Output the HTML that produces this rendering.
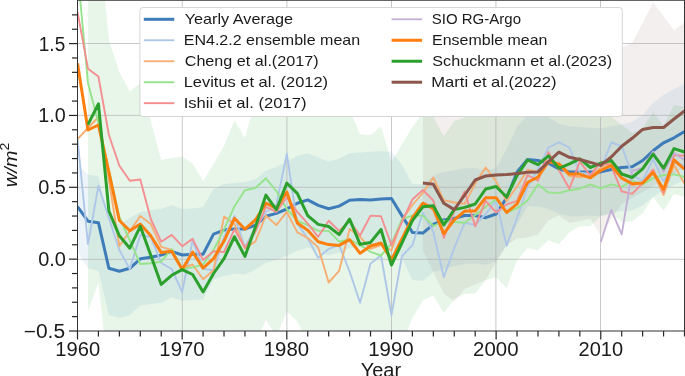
<!DOCTYPE html><html><head><meta charset="utf-8"><style>
html,body{margin:0;padding:0;background:#fff;}
body{width:685px;height:376px;overflow:hidden;}
svg{display:block;font-family:"Liberation Sans",sans-serif;}
</style></head><body>
<svg width="685" height="376" viewBox="0 0 685 376">
<defs><clipPath id="ax"><rect x="77.50" y="0.25" width="607.00" height="330.75"/></clipPath></defs>
<rect width="685" height="376" fill="#fff"/>
<g clip-path="url(#ax)">
<polygon points="87.97,-300.00 98.43,-68.00 108.90,40.00 119.36,72.00 129.83,91.50 140.29,83.00 150.76,121.00 161.22,160.00 171.69,158.00 182.16,156.50 192.62,163.50 203.09,181.00 213.55,164.00 224.02,146.00 234.48,120.50 244.95,138.00 255.41,100.00 265.88,90.00 276.34,85.00 286.81,85.00 297.28,85.00 307.74,85.00 318.21,90.00 328.67,95.00 339.14,100.00 349.60,110.00 360.07,134.30 370.53,135.00 381.00,126.30 391.47,162.00 401.93,144.50 412.40,127.00 422.86,113.00 433.33,117.00 443.79,136.50 454.26,121.20 464.72,117.50 475.19,108.00 485.65,105.00 496.12,105.00 506.59,105.00 517.05,105.00 527.52,105.00 537.98,105.00 548.45,108.00 558.91,110.00 569.38,112.00 579.84,112.00 590.31,114.00 600.77,115.00 611.24,116.50 621.71,125.00 632.17,133.00 642.64,128.00 653.10,112.00 663.57,126.00 674.03,105.00 684.50,107.00 684.50,197.00 674.03,194.00 663.57,210.60 653.10,196.90 642.64,213.30 632.17,221.30 621.71,222.00 611.24,214.00 600.77,216.00 590.31,226.20 579.84,226.20 569.38,232.20 558.91,244.30 548.45,240.20 537.98,250.30 527.52,248.00 517.05,260.50 506.59,288.00 496.12,277.30 485.65,280.00 475.19,293.40 464.72,294.00 454.26,299.00 443.79,313.00 433.33,295.50 422.86,300.50 412.40,318.00 401.93,345.00 391.47,370.00 381.00,380.00 370.53,380.00 360.07,380.00 349.60,380.00 339.14,380.00 328.67,380.00 318.21,380.00 307.74,343.70 297.28,321.50 286.81,311.60 276.34,336.50 265.88,319.80 255.41,343.00 244.95,380.00 234.48,380.00 224.02,380.00 213.55,380.00 203.09,380.00 192.62,380.00 182.16,380.00 171.69,380.00 161.22,380.00 150.76,380.00 140.29,380.00 129.83,380.00 119.36,380.00 108.90,380.00 98.43,282.20 87.97,311.40" fill="rgba(60,185,70,0.12)"/>
<polygon points="77.50,164.50 87.97,174.60 98.43,176.40 108.90,220.00 119.36,224.00 129.83,218.00 140.29,212.00 150.76,210.00 161.22,209.00 171.69,205.00 182.16,209.20 192.62,208.50 203.09,207.00 213.55,189.00 224.02,184.00 234.48,183.00 244.95,182.00 255.41,179.50 265.88,170.70 276.34,167.00 286.81,161.90 297.28,156.10 307.74,153.20 318.21,157.50 328.67,161.60 339.14,158.70 349.60,153.20 360.07,152.40 370.53,151.70 381.00,151.00 391.47,151.70 401.93,164.90 412.40,183.90 422.86,184.60 433.33,175.60 443.79,171.90 454.26,170.50 464.72,168.30 475.19,168.30 485.65,169.70 496.12,168.30 506.59,149.00 517.05,127.00 527.52,115.00 537.98,114.00 548.45,117.50 558.91,123.40 569.38,126.30 579.84,127.00 590.31,127.80 600.77,128.50 611.24,126.30 621.71,124.50 632.17,122.00 642.64,115.00 653.10,103.00 663.57,95.00 674.03,89.00 684.50,84.00 684.50,180.00 674.03,185.00 663.57,190.00 653.10,196.90 642.64,205.60 632.17,210.60 621.71,211.00 611.24,212.50 600.77,216.20 590.31,215.50 579.84,216.20 569.38,216.20 558.91,214.00 548.45,209.00 537.98,206.50 527.52,206.00 517.05,225.00 506.59,245.00 496.12,261.20 485.65,264.90 475.19,263.40 464.72,264.10 454.26,266.30 443.79,269.20 433.33,272.00 422.86,281.00 412.40,280.00 401.93,258.00 391.47,246.50 381.00,246.00 370.53,247.00 360.07,247.50 349.60,248.20 339.14,252.50 328.67,255.50 318.21,251.10 307.74,247.40 297.28,251.10 286.81,255.50 276.34,259.90 265.88,262.80 255.41,269.40 244.95,274.40 234.48,273.70 224.02,275.80 213.55,279.50 203.09,299.20 192.62,300.00 182.16,300.70 171.69,297.50 161.22,302.70 150.76,304.00 140.29,305.60 129.83,315.00 119.36,318.00 108.90,315.00 98.43,271.00 87.97,268.00 77.50,252.00" fill="rgba(31,119,180,0.085)"/>
<polygon points="422.86,95.00 433.33,95.00 443.79,110.00 454.26,118.00 464.72,105.00 475.19,90.00 485.65,86.00 496.12,85.00 506.59,85.00 517.05,83.00 527.52,82.00 537.98,82.00 548.45,72.00 558.91,62.00 569.38,67.00 579.84,69.00 590.31,72.00 600.77,75.00 611.24,62.00 621.71,47.50 632.17,43.00 642.64,23.00 653.10,2.40 663.57,16.30 674.03,30.30 684.50,22.30 684.50,168.00 674.03,174.00 663.57,180.00 653.10,186.00 642.64,192.00 632.17,198.00 621.71,204.00 611.24,219.00 600.77,235.50 590.31,218.60 579.84,221.30 569.38,222.80 558.91,215.40 548.45,220.30 537.98,234.50 527.52,237.50 517.05,238.60 506.59,245.00 496.12,262.00 485.65,280.20 475.19,284.60 464.72,289.00 454.26,301.40 443.79,293.40 433.33,272.00 422.86,250.00" fill="rgba(130,100,95,0.105)"/>
<line x1="182.30" y1="0" x2="182.30" y2="340" stroke="#b0b0b0" stroke-opacity="0.68" stroke-width="1.0"/>
<line x1="286.90" y1="0" x2="286.90" y2="340" stroke="#b0b0b0" stroke-opacity="0.68" stroke-width="1.0"/>
<line x1="391.50" y1="0" x2="391.50" y2="340" stroke="#b0b0b0" stroke-opacity="0.68" stroke-width="1.0"/>
<line x1="495.90" y1="0" x2="495.90" y2="340" stroke="#b0b0b0" stroke-opacity="0.68" stroke-width="1.0"/>
<line x1="600.50" y1="0" x2="600.50" y2="340" stroke="#b0b0b0" stroke-opacity="0.68" stroke-width="1.0"/>
<line x1="70" y1="43.50" x2="690" y2="43.50" stroke="#b0b0b0" stroke-opacity="0.68" stroke-width="1.0"/>
<line x1="70" y1="115.40" x2="690" y2="115.40" stroke="#b0b0b0" stroke-opacity="0.68" stroke-width="1.0"/>
<line x1="70" y1="187.30" x2="690" y2="187.30" stroke="#b0b0b0" stroke-opacity="0.68" stroke-width="1.0"/>
<line x1="70" y1="259.30" x2="690" y2="259.30" stroke="#b0b0b0" stroke-opacity="0.68" stroke-width="1.0"/>
<polyline points="77.50,206.60 87.97,221.20 98.43,222.70 108.90,268.30 119.36,271.20 129.83,268.30 140.29,258.80 150.76,257.30 161.22,255.10 171.69,251.30 182.16,255.00 192.62,254.20 203.09,254.20 213.55,234.10 224.02,230.10 234.48,229.10 244.95,229.10 255.41,225.10 265.88,216.30 276.34,213.40 286.81,209.00 297.28,203.20 307.74,199.90 318.21,205.40 328.67,208.70 339.14,206.10 349.60,200.20 360.07,199.50 370.53,199.90 381.00,199.10 391.47,198.50 401.93,215.60 412.40,232.40 422.86,233.10 433.33,224.30 443.79,219.90 454.26,218.40 464.72,215.50 475.19,215.50 485.65,217.70 496.12,214.00 506.59,197.90 517.05,172.00 527.52,159.50 537.98,160.50 548.45,163.20 558.91,169.00 569.38,171.90 579.84,171.90 590.31,171.90 600.77,171.90 611.24,169.50 621.71,167.60 632.17,166.70 642.64,160.50 653.10,150.80 663.57,142.80 674.03,137.80 684.50,131.50" fill="none" stroke="#3e7cb9" stroke-width="3.0" stroke-linejoin="round" stroke-linecap="butt"/>
<polyline points="77.50,139.00 87.97,244.00 98.43,185.80 108.90,218.00 119.36,250.00 129.83,269.00 140.29,235.00 150.76,237.00 161.22,263.00 171.69,269.00 182.16,292.00 192.62,240.40 203.09,268.90 213.55,270.30 224.02,236.70 234.48,216.00 244.95,247.00 255.41,228.00 265.88,212.00 276.34,205.00 286.81,154.00 297.28,223.60 307.74,238.50 318.21,257.70 328.67,248.90 339.14,245.20 349.60,271.50 360.07,302.70 370.53,263.50 381.00,255.50 391.47,315.10 401.93,256.20 412.40,245.20 422.86,212.70 433.33,232.00 443.79,277.30 454.26,248.00 464.72,222.80 475.19,225.00 485.65,214.00 496.12,200.80 506.59,245.90 517.05,218.00 527.52,187.00 537.98,169.00 548.45,147.50 558.91,142.40 569.38,147.50 579.84,172.70 590.31,174.00 600.77,169.00 611.24,142.50 621.71,146.00 632.17,175.00 642.64,181.00 653.10,158.80 663.57,181.50 674.03,162.00 684.50,166.00" fill="none" stroke="#aec7e8" stroke-width="1.9" stroke-linejoin="round" stroke-linecap="butt"/>
<polyline points="77.50,139.00 87.97,128.00 98.43,117.00 108.90,180.00 119.36,246.00 129.83,231.00 140.29,216.10 150.76,224.10 161.22,246.80 171.69,249.80 182.16,268.00 192.62,264.50 203.09,279.30 213.55,270.30 224.02,216.50 234.48,224.00 244.95,248.40 255.41,241.40 265.88,215.60 276.34,225.10 286.81,211.90 297.28,232.40 307.74,238.00 318.21,247.40 328.67,282.50 339.14,270.80 349.60,229.00 360.07,236.80 370.53,248.90 381.00,245.00 391.47,250.40 401.93,220.00 412.40,205.00 422.86,193.00 433.33,177.50 443.79,200.30 454.26,202.50 464.72,203.80 475.19,183.60 485.65,167.50 496.12,181.40 506.59,201.20 517.05,186.50 527.52,169.70 537.98,172.00 548.45,161.00 558.91,165.00 569.38,176.00 579.84,177.00 590.31,176.00 600.77,168.00 611.24,162.40 621.71,178.00 632.17,185.00 642.64,183.00 653.10,172.00 663.57,195.00 674.03,165.00 684.50,183.80" fill="none" stroke="#f6ae72" stroke-width="1.9" stroke-linejoin="round" stroke-linecap="butt"/>
<polyline points="77.50,-29.00 87.97,82.90 98.43,123.00 108.90,170.00 119.36,217.00 129.83,240.50 140.29,264.00 150.76,263.20 161.22,261.70 171.69,249.10 182.16,268.90 192.62,267.40 203.09,264.50 213.55,249.90 224.02,229.40 234.48,206.30 244.95,190.20 255.41,188.00 265.88,178.30 276.34,191.00 286.81,209.00 297.28,220.70 307.74,225.10 318.21,230.90 328.67,230.90 339.14,241.70 349.60,239.50 360.07,245.00 370.53,251.80 381.00,255.50 391.47,243.80 401.93,219.20 412.40,215.60 422.86,215.60 433.33,226.00 443.79,221.00 454.26,222.00 464.72,222.80 475.19,215.00 485.65,206.70 496.12,199.50 506.59,212.50 517.05,208.20 527.52,200.50 537.98,184.40 548.45,192.40 558.91,193.10 569.38,190.20 579.84,188.70 590.31,184.40 600.77,188.30 611.24,184.40 621.71,186.90 632.17,180.60 642.64,184.40 653.10,178.10 663.57,175.00 674.03,174.40 684.50,176.90" fill="none" stroke="#95e48b" stroke-width="1.9" stroke-linejoin="round" stroke-linecap="butt"/>
<polyline points="77.50,12.00 87.97,68.70 98.43,76.60 108.90,135.00 119.36,165.80 129.83,180.70 140.29,179.50 150.76,219.00 161.22,241.70 171.69,234.90 182.16,246.20 192.62,238.90 203.09,260.10 213.55,251.30 224.02,252.00 234.48,229.40 244.95,247.70 255.41,232.00 265.88,206.80 276.34,211.90 286.81,197.30 297.28,211.90 307.74,223.60 318.21,236.80 328.67,220.70 339.14,230.90 349.60,221.00 360.07,235.50 370.53,215.60 381.00,216.30 391.47,245.20 401.93,222.00 412.40,199.50 422.86,190.00 433.33,200.50 443.79,238.10 454.26,211.10 464.72,191.50 475.19,226.40 485.65,200.80 496.12,212.50 506.59,204.50 517.05,200.80 527.52,175.20 537.98,180.70 548.45,152.20 558.91,170.00 569.38,188.70 579.84,161.70 590.31,175.60 600.77,161.70 611.24,166.00 621.71,191.30 632.17,193.80 642.64,183.10 653.10,169.40 663.57,192.50 674.03,155.00 684.50,155.70" fill="none" stroke="#f48e90" stroke-width="1.9" stroke-linejoin="round" stroke-linecap="butt"/>
<polyline points="600.77,242.00 611.24,209.80 621.71,234.40 632.17,171.00 642.64,168.00 653.10,151.50 663.57,172.00 674.03,153.00 684.50,160.00" fill="none" stroke="#c5b0d5" stroke-width="1.9" stroke-linejoin="round" stroke-linecap="butt"/>
<polyline points="77.50,63.20 87.97,130.00 98.43,125.00 108.90,172.00 119.36,220.50 129.83,230.70 140.29,224.10 150.76,235.80 161.22,252.60 171.69,251.30 182.16,269.60 192.62,252.00 203.09,268.10 213.55,258.60 224.02,241.10 234.48,218.30 244.95,229.20 255.41,220.00 265.88,203.20 276.34,208.30 286.81,192.00 297.28,222.90 307.74,230.20 318.21,241.80 328.67,244.60 339.14,245.40 349.60,239.60 360.07,253.30 370.53,246.00 381.00,243.00 391.47,259.90 401.93,238.90 412.40,217.80 422.86,203.20 433.33,208.60 443.79,233.70 454.26,219.90 464.72,211.10 475.19,211.10 485.65,197.70 496.12,197.70 506.59,212.50 517.05,203.80 527.52,182.50 537.98,177.00 548.45,161.70 558.91,163.90 569.38,174.10 579.84,174.10 590.31,177.80 600.77,170.50 611.24,165.50 621.71,178.10 632.17,183.80 642.64,183.10 653.10,172.50 663.57,189.40 674.03,160.00 684.50,169.20" fill="none" stroke="#ff7f0e" stroke-width="3.0" stroke-linejoin="round" stroke-linecap="butt"/>
<polyline points="87.97,124.70 98.43,103.90 108.90,211.00 119.36,235.80 129.83,248.20 140.29,226.30 150.76,255.30 161.22,284.40 171.69,275.30 182.16,269.60 192.62,274.50 203.09,291.90 213.55,273.50 224.02,258.60 234.48,236.70 244.95,256.40 255.41,227.00 265.88,195.10 276.34,209.70 286.81,183.10 297.28,193.40 307.74,215.60 318.21,224.40 328.67,226.50 339.14,234.60 349.60,219.20 360.07,244.30 370.53,242.40 381.00,229.50 391.47,265.00 401.93,243.00 412.40,220.70 422.86,206.80 433.33,205.70 443.79,225.00 454.26,209.60 464.72,207.40 475.19,204.00 485.65,189.00 496.12,186.50 506.59,197.00 517.05,175.60 527.52,160.00 537.98,164.60 548.45,155.80 558.91,168.30 569.38,163.90 579.84,158.80 590.31,167.50 600.77,163.20 611.24,160.50 621.71,174.00 632.17,177.50 642.64,168.80 653.10,154.20 663.57,168.20 674.03,148.60 684.50,152.00" fill="none" stroke="#2ca02c" stroke-width="3.0" stroke-linejoin="round" stroke-linecap="butt"/>
<polyline points="422.86,183.10 433.33,184.20 443.79,203.20 454.26,209.60 464.72,195.00 475.19,180.00 485.65,176.00 496.12,175.10 506.59,174.60 517.05,173.40 527.52,172.30 537.98,171.90 548.45,161.70 558.91,152.20 569.38,157.30 579.84,159.50 590.31,162.40 600.77,165.40 611.24,157.00 621.71,146.20 632.17,138.30 642.64,129.40 653.10,127.50 663.57,127.50 674.03,119.00 684.50,111.00" fill="none" stroke="#8c564b" stroke-width="3.0" stroke-linejoin="round" stroke-linecap="butt"/>
</g>
<line x1="77.50" y1="-0.25" x2="77.50" y2="331.50" stroke="#333333" stroke-width="1.0"/>
<line x1="77.00" y1="331.00" x2="685.00" y2="331.00" stroke="#333333" stroke-width="1.0"/>
<line x1="77.00" y1="0.25" x2="685.00" y2="0.25" stroke="#333333" stroke-width="1.0"/>
<line x1="684.50" y1="-0.25" x2="684.50" y2="331.50" stroke="#333333" stroke-width="1.0"/>
<line x1="77.50" y1="331.00" x2="77.50" y2="339.50" stroke="#262626" stroke-width="1.2"/>
<line x1="98.43" y1="331.00" x2="98.43" y2="336.50" stroke="#262626" stroke-width="1.2"/>
<line x1="119.36" y1="331.00" x2="119.36" y2="336.50" stroke="#262626" stroke-width="1.2"/>
<line x1="140.29" y1="331.00" x2="140.29" y2="336.50" stroke="#262626" stroke-width="1.2"/>
<line x1="161.22" y1="331.00" x2="161.22" y2="336.50" stroke="#262626" stroke-width="1.2"/>
<line x1="182.16" y1="331.00" x2="182.16" y2="339.50" stroke="#262626" stroke-width="1.2"/>
<line x1="203.09" y1="331.00" x2="203.09" y2="336.50" stroke="#262626" stroke-width="1.2"/>
<line x1="224.02" y1="331.00" x2="224.02" y2="336.50" stroke="#262626" stroke-width="1.2"/>
<line x1="244.95" y1="331.00" x2="244.95" y2="336.50" stroke="#262626" stroke-width="1.2"/>
<line x1="265.88" y1="331.00" x2="265.88" y2="336.50" stroke="#262626" stroke-width="1.2"/>
<line x1="286.81" y1="331.00" x2="286.81" y2="339.50" stroke="#262626" stroke-width="1.2"/>
<line x1="307.74" y1="331.00" x2="307.74" y2="336.50" stroke="#262626" stroke-width="1.2"/>
<line x1="328.67" y1="331.00" x2="328.67" y2="336.50" stroke="#262626" stroke-width="1.2"/>
<line x1="349.60" y1="331.00" x2="349.60" y2="336.50" stroke="#262626" stroke-width="1.2"/>
<line x1="370.53" y1="331.00" x2="370.53" y2="336.50" stroke="#262626" stroke-width="1.2"/>
<line x1="391.47" y1="331.00" x2="391.47" y2="339.50" stroke="#262626" stroke-width="1.2"/>
<line x1="412.40" y1="331.00" x2="412.40" y2="336.50" stroke="#262626" stroke-width="1.2"/>
<line x1="433.33" y1="331.00" x2="433.33" y2="336.50" stroke="#262626" stroke-width="1.2"/>
<line x1="454.26" y1="331.00" x2="454.26" y2="336.50" stroke="#262626" stroke-width="1.2"/>
<line x1="475.19" y1="331.00" x2="475.19" y2="336.50" stroke="#262626" stroke-width="1.2"/>
<line x1="496.12" y1="331.00" x2="496.12" y2="339.50" stroke="#262626" stroke-width="1.2"/>
<line x1="517.05" y1="331.00" x2="517.05" y2="336.50" stroke="#262626" stroke-width="1.2"/>
<line x1="537.98" y1="331.00" x2="537.98" y2="336.50" stroke="#262626" stroke-width="1.2"/>
<line x1="558.91" y1="331.00" x2="558.91" y2="336.50" stroke="#262626" stroke-width="1.2"/>
<line x1="579.84" y1="331.00" x2="579.84" y2="336.50" stroke="#262626" stroke-width="1.2"/>
<line x1="600.77" y1="331.00" x2="600.77" y2="339.50" stroke="#262626" stroke-width="1.2"/>
<line x1="621.71" y1="331.00" x2="621.71" y2="336.50" stroke="#262626" stroke-width="1.2"/>
<line x1="642.64" y1="331.00" x2="642.64" y2="336.50" stroke="#262626" stroke-width="1.2"/>
<line x1="663.57" y1="331.00" x2="663.57" y2="336.50" stroke="#262626" stroke-width="1.2"/>
<line x1="684.50" y1="331.00" x2="684.50" y2="336.50" stroke="#262626" stroke-width="1.2"/>
<line x1="69.00" y1="331.00" x2="77.50" y2="331.00" stroke="#262626" stroke-width="1.2"/>
<line x1="72.00" y1="316.63" x2="77.50" y2="316.63" stroke="#262626" stroke-width="1.2"/>
<line x1="72.00" y1="302.26" x2="77.50" y2="302.26" stroke="#262626" stroke-width="1.2"/>
<line x1="72.00" y1="287.89" x2="77.50" y2="287.89" stroke="#262626" stroke-width="1.2"/>
<line x1="72.00" y1="273.52" x2="77.50" y2="273.52" stroke="#262626" stroke-width="1.2"/>
<line x1="69.00" y1="259.15" x2="77.50" y2="259.15" stroke="#262626" stroke-width="1.2"/>
<line x1="72.00" y1="244.78" x2="77.50" y2="244.78" stroke="#262626" stroke-width="1.2"/>
<line x1="72.00" y1="230.41" x2="77.50" y2="230.41" stroke="#262626" stroke-width="1.2"/>
<line x1="72.00" y1="216.04" x2="77.50" y2="216.04" stroke="#262626" stroke-width="1.2"/>
<line x1="72.00" y1="201.67" x2="77.50" y2="201.67" stroke="#262626" stroke-width="1.2"/>
<line x1="69.00" y1="187.30" x2="77.50" y2="187.30" stroke="#262626" stroke-width="1.2"/>
<line x1="72.00" y1="172.93" x2="77.50" y2="172.93" stroke="#262626" stroke-width="1.2"/>
<line x1="72.00" y1="158.56" x2="77.50" y2="158.56" stroke="#262626" stroke-width="1.2"/>
<line x1="72.00" y1="144.19" x2="77.50" y2="144.19" stroke="#262626" stroke-width="1.2"/>
<line x1="72.00" y1="129.82" x2="77.50" y2="129.82" stroke="#262626" stroke-width="1.2"/>
<line x1="69.00" y1="115.45" x2="77.50" y2="115.45" stroke="#262626" stroke-width="1.2"/>
<line x1="72.00" y1="101.08" x2="77.50" y2="101.08" stroke="#262626" stroke-width="1.2"/>
<line x1="72.00" y1="86.71" x2="77.50" y2="86.71" stroke="#262626" stroke-width="1.2"/>
<line x1="72.00" y1="72.34" x2="77.50" y2="72.34" stroke="#262626" stroke-width="1.2"/>
<line x1="72.00" y1="57.97" x2="77.50" y2="57.97" stroke="#262626" stroke-width="1.2"/>
<line x1="69.00" y1="43.60" x2="77.50" y2="43.60" stroke="#262626" stroke-width="1.2"/>
<line x1="72.00" y1="29.23" x2="77.50" y2="29.23" stroke="#262626" stroke-width="1.2"/>
<line x1="72.00" y1="14.86" x2="77.50" y2="14.86" stroke="#262626" stroke-width="1.2"/>
<rect x="139.90" y="7.50" width="482.40" height="109.00" rx="3" ry="3" fill="#ffffff" stroke="#cccccc" stroke-opacity="0.8" stroke-width="1"/>
<line x1="143.80" y1="19.30" x2="174.30" y2="19.30" stroke="#3e7cb9" stroke-width="3.0"/>
<line x1="143.80" y1="40.27" x2="174.30" y2="40.27" stroke="#aec7e8" stroke-width="1.9"/>
<line x1="143.80" y1="61.24" x2="174.30" y2="61.24" stroke="#f6ae72" stroke-width="1.9"/>
<line x1="143.80" y1="82.21" x2="174.30" y2="82.21" stroke="#95e48b" stroke-width="1.9"/>
<line x1="143.80" y1="103.18" x2="174.30" y2="103.18" stroke="#f48e90" stroke-width="1.9"/>
<line x1="391.60" y1="19.30" x2="422.10" y2="19.30" stroke="#c5b0d5" stroke-width="1.9"/>
<line x1="391.60" y1="40.27" x2="422.10" y2="40.27" stroke="#ff7f0e" stroke-width="3.0"/>
<line x1="391.60" y1="61.24" x2="422.10" y2="61.24" stroke="#2ca02c" stroke-width="3.0"/>
<line x1="391.60" y1="82.21" x2="422.10" y2="82.21" stroke="#8c564b" stroke-width="3.0"/>
<defs><filter id="gs" filterUnits="userSpaceOnUse" x="0" y="0" width="685" height="376" color-interpolation-filters="sRGB"><feColorMatrix type="saturate" values="0"/></filter></defs>
<g filter="url(#gs)">
<text x="38.81" y="50.50" font-size="19.3" fill="#1a1a1a" textLength="26.41" lengthAdjust="spacingAndGlyphs">1.5</text>
<text x="38.16" y="122.35" font-size="19.3" fill="#1a1a1a" textLength="27.48" lengthAdjust="spacingAndGlyphs">1.0</text>
<text x="38.15" y="194.20" font-size="19.3" fill="#1a1a1a" textLength="27.69" lengthAdjust="spacingAndGlyphs">0.5</text>
<text x="38.16" y="266.05" font-size="19.3" fill="#1a1a1a" textLength="27.71" lengthAdjust="spacingAndGlyphs">0.0</text>
<text x="23.71" y="337.90" font-size="19.3" fill="#1a1a1a" textLength="41.40" lengthAdjust="spacingAndGlyphs">−0.5</text>
<text x="55.34" y="355.60" font-size="19.3" fill="#1a1a1a" textLength="44.80" lengthAdjust="spacingAndGlyphs">1960</text>
<text x="159.39" y="355.60" font-size="19.3" fill="#1a1a1a" textLength="45.22" lengthAdjust="spacingAndGlyphs">1970</text>
<text x="263.79" y="355.60" font-size="19.3" fill="#1a1a1a" textLength="45.23" lengthAdjust="spacingAndGlyphs">1980</text>
<text x="368.20" y="355.60" font-size="19.3" fill="#1a1a1a" textLength="45.42" lengthAdjust="spacingAndGlyphs">1990</text>
<text x="473.10" y="355.60" font-size="19.3" fill="#1a1a1a" textLength="45.43" lengthAdjust="spacingAndGlyphs">2000</text>
<text x="578.56" y="355.60" font-size="19.3" fill="#1a1a1a" textLength="44.56" lengthAdjust="spacingAndGlyphs">2010</text>
<text x="360.68" y="376.60" font-size="19.3" fill="#1a1a1a" textLength="40.42" lengthAdjust="spacingAndGlyphs">Year</text>
<text transform="translate(16.6,165.0) rotate(-90) scale(1.1,1)" font-size="18.3" text-anchor="middle" fill="#1a1a1a" font-style="italic">w/m<tspan font-size="12.8" dy="-7.3" font-style="normal">2</tspan></text>
<text x="184.69" y="24.35" font-size="14.8" fill="#1a1a1a" textLength="108.31" lengthAdjust="spacingAndGlyphs">Yearly Average</text>
<text x="183.71" y="45.32" font-size="14.8" fill="#1a1a1a" textLength="176.44" lengthAdjust="spacingAndGlyphs">EN4.2.2 ensemble mean</text>
<text x="184.71" y="66.29" font-size="14.8" fill="#1a1a1a" textLength="133.91" lengthAdjust="spacingAndGlyphs">Cheng et al.(2017)</text>
<text x="183.70" y="87.26" font-size="14.8" fill="#1a1a1a" textLength="144.38" lengthAdjust="spacingAndGlyphs">Levitus et al. (2012)</text>
<text x="183.66" y="108.23" font-size="14.8" fill="#1a1a1a" textLength="122.79" lengthAdjust="spacingAndGlyphs">Ishii et al. (2017)</text>
<text x="431.77" y="24.35" font-size="14.8" fill="#1a1a1a" textLength="89.21" lengthAdjust="spacingAndGlyphs">SIO RG-Argo</text>
<text x="432.11" y="45.32" font-size="14.8" fill="#1a1a1a" textLength="115.30" lengthAdjust="spacingAndGlyphs">Ensemble mean</text>
<text x="432.29" y="66.29" font-size="14.8" fill="#1a1a1a" textLength="179.93" lengthAdjust="spacingAndGlyphs">Schuckmann et al.(2023)</text>
<text x="431.24" y="87.26" font-size="14.8" fill="#1a1a1a" textLength="125.27" lengthAdjust="spacingAndGlyphs">Marti et al.(2022)</text>
</g>
</svg></body></html>
